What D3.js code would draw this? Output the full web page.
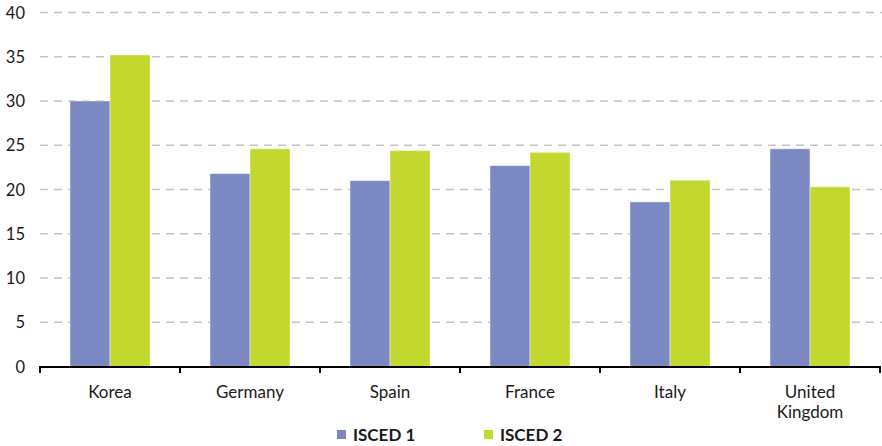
<!DOCTYPE html>
<html><head><meta charset="utf-8">
<script src="https://cdn.jsdelivr.net/npm/d3@7"></script>
<style>
html,body{margin:0;padding:0;background:#fff;}
text{font-family:Lato,"Open Sans",sans-serif;}
</style></head>
<body><svg id="c" width="882" height="446"></svg>
<script>
const categories = ["Korea","Germany","Spain","France","Italy","United Kingdom"];
const isced1 = [30.0, 21.8, 21.0, 22.7, 18.6, 24.6];
const isced2 = [35.2, 24.6, 24.4, 24.2, 21.05, 20.3];
const seriesNames = ["ISCED 1","ISCED 2"];
const yTicks = [0,5,10,15,20,25,30,35,40];
const colors = ["#7b88c2","#c2d82f"];

const svg = d3.select("#c");
const x = d3.scaleBand().domain(categories).range([40, 880]).paddingInner(0).paddingOuter(0);
const x1 = d3.scaleBand().domain(seriesNames).range([30, 110]);
const y = d3.scaleLinear().domain([0,40]).range([366.5, 12.5]);
const fs = 17;

// grid
svg.append("g").selectAll("line").data(yTicks.filter(d=>d>0)).join("line")
  .attr("x1",40).attr("x2",882).attr("y1",d=>y(d)).attr("y2",d=>y(d))
  .attr("stroke","#c4c4c4").attr("stroke-width",1.3).attr("stroke-dasharray","8,6");

// y labels
svg.append("g").selectAll("text").data(yTicks).join("text")
  .attr("x",25).attr("y",d=>y(d)+6).attr("text-anchor","end")
  .attr("font-size",16.5).attr("fill","#1a1a1a").text(d=>d);

// bars
const series = [isced1, isced2];
const g = svg.append("g");
categories.forEach((c,i)=>{
  series.forEach((s,j)=>{
    g.append("rect")
      .attr("x", x(c)+x1(seriesNames[j]))
      .attr("y", y(s[i]))
      .attr("width", x1.bandwidth())
      .attr("height", y(0)-y(s[i]))
      .attr("fill", colors[j])
      .attr("stroke","rgba(255,255,255,0.45)").attr("stroke-width",1);
  });
});

// x axis
svg.append("line").attr("x1",39).attr("x2",881).attr("y1",367).attr("y2",367)
  .attr("stroke","#000").attr("stroke-width",2);
const bounds = categories.map(c=>x(c)).concat([x.range()[1]]);
svg.append("g").selectAll("line").data(bounds).join("line")
  .attr("x1",d=>d).attr("x2",d=>d).attr("y1",367).attr("y2",373)
  .attr("stroke","#000").attr("stroke-width",2);

// x labels
categories.forEach(c=>{
  const words = c==="United Kingdom" ? ["United","Kingdom"] : [c];
  const t = svg.append("text").attr("x", x(c)+x.bandwidth()/2).attr("y",398)
    .attr("text-anchor","middle").attr("font-size",fs).attr("fill","#1a1a1a");
  words.forEach((w,k)=>t.append("tspan").attr("x",x(c)+x.bandwidth()/2).attr("dy",k?20:0).text(w));
});

// legend
const lx = [337, 484];
seriesNames.forEach((n,j)=>{
  svg.append("rect").attr("x",lx[j]).attr("y",430).attr("width",9).attr("height",9).attr("fill",colors[j]);
  svg.append("text").attr("x",lx[j]+16).attr("y",441).attr("font-size",fs)
    .attr("font-weight","bold").attr("fill","#1a1a1a").text(n);
});
</script></body></html>
